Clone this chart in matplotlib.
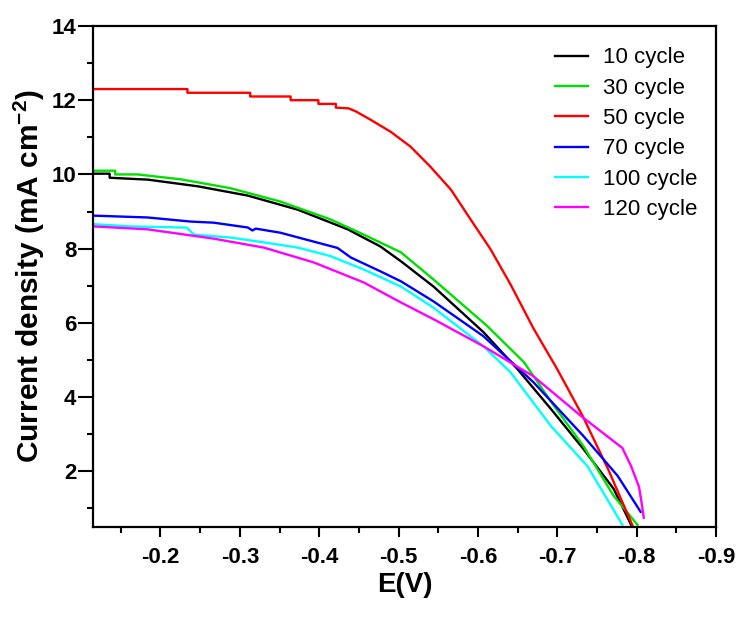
import matplotlib
matplotlib.use("Agg")
import matplotlib.pyplot as plt
from matplotlib.ticker import MultipleLocator

plt.rcParams['font.family'] = ['Liberation Sans', 'DejaVu Sans']
plt.rcParams['mathtext.fontset'] = 'custom'
plt.rcParams['mathtext.bf'] = 'Liberation Sans:bold'
plt.rcParams['mathtext.rm'] = 'Liberation Sans'

# J-V curves for different deposition cycle counts
labels = ['10 cycle', '30 cycle', '50 cycle', '70 cycle', '100 cycle', '120 cycle']
colors = ['#000000', '#00e000', '#ff0000', '#0000ff', '#00ffff', '#ff00ff']

e_10 = [-0.115, -0.136, -0.136, -0.184, -0.247, -0.310, -0.373, -0.436, -0.477, -0.503,
        -0.544, -0.607, -0.650, -0.692, -0.733, -0.771, -0.793]
j_10 = [10.02, 10.02, 9.91, 9.86, 9.68, 9.43, 9.05, 8.52, 8.06, 7.66,
        6.98, 5.75, 4.75, 3.68, 2.60, 1.53, 0.56]

e_30 = [-0.115, -0.143, -0.143, -0.171, -0.225, -0.288, -0.351, -0.414, -0.456, -0.503,
        -0.544, -0.612, -0.658, -0.696, -0.733, -0.771, -0.801]
j_30 = [10.10, 10.10, 10.00, 10.00, 9.87, 9.63, 9.27, 8.79, 8.38, 7.90,
        7.17, 5.91, 4.94, 3.76, 2.68, 1.34, 0.56]

e_50 = [-0.115, -0.234, -0.234, -0.313, -0.313, -0.364, -0.364, -0.399, -0.399, -0.421,
        -0.421, -0.437, -0.446, -0.465, -0.490, -0.515, -0.540, -0.566, -0.591, -0.616,
        -0.641, -0.670, -0.700, -0.732, -0.764, -0.795]
j_50 = [12.30, 12.30, 12.20, 12.20, 12.10, 12.10, 12.00, 12.00, 11.90, 11.90,
        11.80, 11.78, 11.70, 11.47, 11.15, 10.75, 10.21, 9.59, 8.78, 7.98,
        7.04, 5.85, 4.75, 3.49, 2.06, 0.53]

e_70 = [-0.115, -0.184, -0.238, -0.267, -0.310, -0.316, -0.320, -0.351, -0.393, -0.423,
        -0.440, -0.477, -0.503, -0.544, -0.607, -0.670, -0.733, -0.776, -0.805]
j_70 = [8.89, 8.84, 8.73, 8.70, 8.57, 8.49, 8.54, 8.43, 8.19, 8.02,
        7.76, 7.39, 7.12, 6.58, 5.64, 4.40, 2.95, 1.88, 0.91]

e_100 = [-0.115, -0.162, -0.225, -0.233, -0.242, -0.288, -0.330, -0.373, -0.414, -0.456,
         -0.503, -0.544, -0.607, -0.641, -0.692, -0.738, -0.782]
j_100 = [8.66, 8.60, 8.57, 8.57, 8.38, 8.30, 8.17, 8.03, 7.80, 7.44,
         6.98, 6.41, 5.37, 4.67, 3.22, 2.14, 0.56]

e_120 = [-0.115, -0.184, -0.267, -0.330, -0.393, -0.456, -0.503, -0.544, -0.607, -0.670,
         -0.730, -0.782, -0.793, -0.803, -0.806, -0.809]
j_120 = [8.60, 8.52, 8.27, 8.03, 7.63, 7.09, 6.55, 6.10, 5.37, 4.56,
         3.49, 2.63, 2.14, 1.58, 1.18, 0.75]

xtick_vals = [-0.2, -0.3, -0.4, -0.5, -0.6, -0.7, -0.8, -0.9]
xtick_labels = ['-0.2', '-0.3', '-0.4', '-0.5', '-0.6', '-0.7', '-0.8', '-0.9']

series = [(e_10, j_10), (e_30, j_30), (e_50, j_50), (e_70, j_70), (e_100, j_100), (e_120, j_120)]

fig = plt.figure(figsize=(7.41, 6.18), dpi=100)
ax = fig.add_axes([0.1255, 0.1472, 0.8408, 0.8108])

for (e, j), c, lab in zip(series, colors, labels):
    ax.plot(e, j, color=c, lw=1.7, label=lab)

ax.set_xlim(-0.115, -0.9)
ax.set_ylim(0.5, 14)
ax.set_xticks(xtick_vals)
ax.set_xticklabels(xtick_labels)
ax.xaxis.set_minor_locator(MultipleLocator(0.05))
ax.yaxis.set_major_locator(MultipleLocator(2))
ax.yaxis.set_minor_locator(MultipleLocator(1))

for s in ax.spines.values():
    s.set_linewidth(1.6)
ax.tick_params(axis='x', which='major', direction='out', length=7.5, width=1.5, labelsize=16, pad=7)
ax.tick_params(axis='x', which='minor', direction='out', length=4.5, width=1.5)
ax.tick_params(axis='y', which='major', direction='out', length=11, width=1.5, labelsize=16, pad=1)
ax.tick_params(axis='y', which='minor', direction='out', length=4.5, width=1.5)
for t in ax.get_xticklabels() + ax.get_yticklabels():
    t.set_fontweight('bold')

ax.set_xlabel('E(V)', fontsize=20, fontweight='bold', labelpad=3)
ax.set_ylabel('Current density (mA cm$^{\\mathbf{-2}}$)', fontsize=21.5, fontweight='bold', labelpad=3)

ax.legend(loc='upper right', frameon=False, fontsize=16, handlelength=1.5, handletextpad=0.7,
          labelspacing=0.42, borderaxespad=0.0, bbox_to_anchor=(0.985, 0.975))

fig.savefig('out.png', dpi=100)
